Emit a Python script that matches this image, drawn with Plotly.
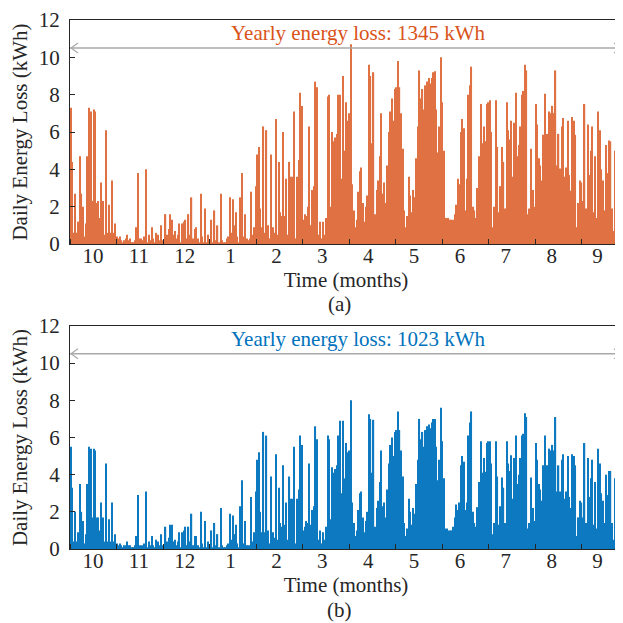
import numpy as np
import plotly.graph_objects as go

# ---------------- data (daily energy loss, kWh) ----------------
month_labels = ["10", "11", "12", "1", "2", "3", "4", "5", "6", "7", "8", "9"]

# (a) orange series
oct_a = [7.3, 4.4, 0.6, 2.7, 0.6, 1.2, 4.7, 2.7, 2.0, 0.4, 1.1, 4.7, 7.3, 7.1, 2.3, 7.2, 7.1, 2.2, 2.3, 1.4,
         3.3, 2.3, 0.5, 6.1, 0.6, 2.1, 0.6, 3.4, 0.6, 1.1, 0.4]
nov_a = [0.3, 0.4, 0.2, 0.1, 0.2, 0.3, 0.5, 0.2, 0.3, 0.1, 0.1, 0.2, 0.9, 3.8, 0.3, 0.3, 0.2, 0.4, 4.0, 0.1,
         0.5, 0.2, 0.9, 0.3, 0.1, 0.6, 0.5, 0.2, 1.0, 0.2]
dec_a = [0.2, 1.6, 0.5, 0.8, 1.6, 1.3, 0.5, 0.7, 0.3, 0.5, 1.1, 0.1, 1.1, 1.2, 1.3, 0.3, 1.6, 0.5, 2.5, 0.3,
         0.8, 0.9, 0.3, 0.1, 2.7, 0.4, 0.1, 1.9, 0.1, 0.5, 0.2]
jan_a = [1.3, 0.1, 1.8, 0.2, 1.0, 0.1, 2.7, 0.2, 0.1, 0.1, 0.3, 0.4, 2.5, 0.6, 2.4, 1.0, 1.7, 0.4, 0.1, 2.5,
         3.8, 0.4, 1.6, 0.3, 0.2, 0.3, 2.8, 0.5, 0.9, 3.1, 4.8]
feb_a = [5.2, 1.9, 0.9, 6.3, 0.6, 6.1, 1.0, 0.3, 4.8, 0.9, 0.6, 6.7, 0.5, 4.4, 1.7, 1.5, 6.0, 1.5, 3.5, 0.5,
         4.4, 3.6, 3.6, 7.1, 0.3, 3.6, 4.5, 8.1, 7.4]
mar_a = [1.3, 1.6, 1.5, 2.0, 6.3, 1.0, 2.9, 3.1, 8.7, 8.4, 0.5, 1.2, 0.3, 1.2, 0.5, 1.4, 7.9, 8.0, 2.0, 6.0,
         5.5, 5.7, 5.9, 8.0, 8.0, 3.5, 9.0, 5.0, 7.6, 6.6, 7.0]
apr_a = [10.7, 3.2, 1.8, 0.9, 1.3, 2.8, 3.9, 4.1, 2.2, 1.2, 2.0, 2.6, 9.6, 9.0, 5.4, 9.2, 1.6, 2.9, 3.4, 4.7,
         7.0, 2.7, 3.3, 2.2, 4.2, 6.0, 7.1, 7.8, 6.6, 8.3]
may_a = [8.4, 9.8, 8.4, 7.0, 5.1, 1.8, 0.9, 1.5, 3.6, 2.6, 1.7, 2.9, 2.5, 4.6, 6.3, 9.3, 7.8, 8.3, 7.2, 8.5,
         8.7, 8.9, 8.6, 8.9, 9.2, 9.25, 7.2, 4.9, 6.3, 10.0, 7.6]
jun_a = [5.0, 1.4, 1.4, 1.4, 1.3, 1.3, 1.3, 1.6, 2.1, 3.5, 3.2, 6.0, 6.7, 6.2, 1.8, 3.5, 8.0, 8.5, 9.5, 2.0,
         1.8, 1.4, 3.0, 4.7, 7.5, 5.4, 6.3, 5.5, 7.5, 7.6]
jul_a = [7.7, 6.0, 0.9, 2.0, 7.7, 5.2, 1.7, 3.1, 5.2, 4.4, 1.9, 7.6, 6.1, 5.6, 6.6, 3.6, 6.5, 8.1, 4.7, 5.3,
         6.3, 8.0, 8.2, 9.6, 9.3, 1.6, 1.9, 5.1, 2.9, 2.0, 7.5]
aug_a = [6.4, 4.6, 4.2, 3.4, 5.85, 8.05, 5.9, 5.9, 7.1, 7.0, 7.4, 7.0, 9.3, 4.2, 5.9, 4.05, 6.3, 6.75, 3.6, 4.1,
         6.6, 3.7, 2.85, 6.8, 6.6, 5.85, 0.9, 2.2, 3.4, 3.3, 2.3]
sep_a = [7.5, 1.9, 6.4, 3.7, 5.0, 6.3, 1.7, 4.7, 1.4, 7.1, 6.1, 4.0, 3.4, 1.8, 5.3, 3.8, 5.55, 5.5, 1.9, 0.7,
         5.0, 6.2, 1.05, 0.5, 0.6, 0.6]

# (b) blue series
oct_b = [5.5, 3.3, 0.4, 2.0, 0.4, 0.9, 3.5, 2.0, 1.5, 0.3, 0.8, 3.5, 5.5, 5.4, 1.7, 5.4, 5.3, 1.7, 1.7, 1.0,
         2.5, 1.7, 0.4, 4.6, 0.4, 1.6, 0.4, 2.5, 0.4, 0.8, 0.3]
nov_b = [0.2, 0.3, 0.2, 0.1, 0.2, 0.2, 0.4, 0.2, 0.2, 0.1, 0.1, 0.2, 0.7, 2.9, 0.2, 0.2, 0.2, 0.3, 3.1, 0.1,
         0.4, 0.2, 0.7, 0.2, 0.1, 0.5, 0.4, 0.2, 0.8, 0.2]
dec_b = [0.2, 1.2, 0.4, 0.6, 1.3, 1.3, 0.4, 0.5, 0.2, 0.4, 0.9, 0.1, 0.9, 1.0, 1.2, 0.2, 1.2, 0.4, 1.9, 0.2,
         0.7, 0.7, 0.2, 0.1, 2.0, 0.3, 0.1, 1.5, 0.1, 0.4, 0.2]
jan_b = [1.0, 0.1, 1.4, 0.2, 0.8, 0.1, 2.2, 0.2, 0.1, 0.1, 0.2, 0.3, 1.9, 0.5, 1.8, 0.8, 1.3, 0.3, 0.1, 2.3,
         3.7, 0.3, 1.5, 0.2, 0.2, 0.2, 2.8, 0.4, 0.9, 3.1, 4.8]
feb_b = [5.2, 2.0, 0.9, 6.3, 0.9, 6.1, 1.0, 0.3, 3.9, 0.9, 0.6, 5.1, 0.5, 3.3, 1.4, 1.2, 4.5, 1.3, 2.5, 0.5,
         3.9, 2.7, 2.7, 5.5, 0.3, 2.7, 3.2, 6.1, 5.6]
mar_b = [1.0, 1.2, 1.5, 1.4, 4.6, 1.3, 2.1, 2.3, 6.6, 5.9, 0.5, 1.0, 0.3, 0.9, 0.5, 1.2, 6.1, 5.9, 1.6, 4.4,
         4.1, 4.3, 4.5, 6.1, 6.9, 3.0, 6.9, 3.8, 5.7, 5.2, 5.3]
apr_b = [8.0, 2.5, 1.4, 0.7, 1.0, 2.1, 3.0, 3.1, 1.7, 0.9, 1.5, 2.0, 7.25, 7.0, 4.1, 6.95, 1.2, 2.2, 2.6, 3.6,
         5.3, 2.3, 2.5, 1.7, 3.2, 4.6, 5.6, 6.0, 5.0, 6.3]
may_b = [6.4, 7.4, 6.4, 5.3, 3.9, 1.4, 0.7, 1.1, 2.7, 2.0, 1.3, 2.2, 1.9, 3.5, 4.8, 7.0, 5.9, 6.3, 5.5, 6.4,
         6.6, 6.7, 6.5, 6.8, 7.0, 7.0, 5.5, 3.7, 4.8, 7.6, 5.8]
jun_b = [3.8, 1.1, 1.1, 1.0, 1.0, 1.0, 1.2, 1.7, 2.4, 2.1, 2.5, 4.5, 5.0, 4.7, 2.1, 2.5, 6.1, 6.8, 7.4, 2.0,
         1.4, 1.2, 2.25, 3.6, 5.8, 4.1, 4.9, 4.15, 5.7, 5.8]
jul_b = [5.8, 4.6, 0.8, 1.4, 5.8, 3.9, 1.3, 2.3, 3.85, 3.3, 1.4, 5.8, 4.6, 4.2, 5.05, 2.7, 4.9, 6.1, 3.5, 4.0,
         4.9, 6.1, 6.2, 7.3, 7.1, 1.1, 1.4, 3.85, 2.2, 1.5, 5.7]
aug_b = [4.8, 3.5, 3.2, 2.6, 4.5, 6.1, 4.5, 4.5, 5.4, 5.3, 5.6, 5.3, 7.1, 3.1, 4.5, 3.1, 4.8, 5.1, 2.7, 3.1,
         5.0, 2.8, 2.2, 5.1, 5.0, 4.5, 0.7, 1.7, 2.6, 2.5, 1.7]
sep_b = [5.7, 1.4, 4.9, 2.8, 3.8, 4.8, 1.3, 3.6, 1.1, 5.4, 4.6, 3.0, 2.6, 1.4, 4.0, 2.9, 4.2, 4.2, 1.4, 0.5,
         3.8, 4.7, 0.8, 0.4, 0.5, 0.5]

loss_a = oct_a + nov_a + dec_a + jan_a + feb_a + mar_a + apr_a + may_a + jun_a + jul_a + aug_a + sep_a
loss_b = oct_b + nov_b + dec_b + jan_b + feb_b + mar_b + apr_b + may_b + jun_b + jul_b + aug_b + sep_b

yearly_a = 1345
yearly_b = 1023

# ---------------- styling ----------------
ORANGE = "#D95319"
BLUE = "#0072BD"
AX = "#262626"
FONT = "Liberation Serif"
FS = 21

OFF = 8                      # page body margin offset
W, H = 623 - OFF, 623 - OFF
ML, MR = 70 - OFF, 0
MT = 13 - OFF
MB = H - (549 - OFF)
PX_PER_DAY = 46.6 / (365 / 12)
X_END = (W - ML - MR) / PX_PER_DAY

days = np.arange(len(loss_a)) + 0.5
tick_bounds = [k * 365 / 12 for k in range(13)]
label_pos = [15 + 30 * k for k in range(12)]

fig = go.Figure()
fig.add_trace(go.Bar(x=days, y=loss_a, marker=dict(color=ORANGE, line=dict(width=0)),
                     opacity=0.82, xaxis="x", yaxis="y", showlegend=False))
fig.add_trace(go.Bar(x=days[:len(loss_b)], y=loss_b, marker=dict(color=BLUE, line=dict(width=0)),
                     opacity=0.95, xaxis="x2", yaxis="y2", showlegend=False))


def xaxis_cfg(anchor):
    return dict(
        anchor=anchor, domain=[0, 1], range=[0, X_END],
        tickmode="array", tickvals=label_pos, ticktext=month_labels,
        ticks="", showgrid=False, zeroline=False,
        showline=True, linecolor=AX, linewidth=1, mirror=True,
        tickfont=dict(family=FONT, size=FS, color=AX),
        ticklabelstandoff=-7,
        minor=dict(tickmode="array", tickvals=tick_bounds, ticks="inside",
                   ticklen=5, tickcolor=AX, tickwidth=1, showgrid=False),
        title=dict(text="Time (months)", font=dict(family=FONT, size=FS, color=AX), standoff=0),
    )


def yaxis_cfg(anchor, domain):
    return dict(
        anchor=anchor, domain=domain, range=[0, 12],
        tickmode="array", tickvals=[0, 2, 4, 6, 8, 10, 12],
        ticks="inside", ticklen=5, tickcolor=AX, tickwidth=1,
        showgrid=False, zeroline=False,
        showline=True, linecolor=AX, linewidth=1, mirror="ticks",
        tickfont=dict(family=FONT, size=FS, color=AX),
        ticklabelstandoff=5,
        title=dict(text="Daily Energy Loss (kWh)", font=dict(family=FONT, size=FS, color=AX), standoff=5),
    )


plot_h = H - MT - MB
top_dom = [(549 - 240) / plot_h, 1.0]
bot_dom = [0.0, (549 - 323) / plot_h]

fig.update_layout(
    width=W, height=H,
    margin=dict(l=ML, r=MR, t=MT, b=MB, pad=0),
    paper_bgcolor="white", plot_bgcolor="white",
    bargap=0.2, barmode="overlay",
    font=dict(family=FONT, size=FS, color=AX),
    xaxis=xaxis_cfg("y"), yaxis=yaxis_cfg("x", top_dom),
    xaxis2=xaxis_cfg("y2"), yaxis2=yaxis_cfg("x2", bot_dom),
)

shapes = []
annotations = []
ARROW_Y = 10.5
GRAY = "#A9A9A9"
for xr, yr, label, col in [("x", "y", f"Yearly energy loss: {yearly_a} kWh", ORANGE),
                           ("x2", "y2", f"Yearly energy loss: {yearly_b} kWh", BLUE)]:
    shapes.append(dict(type="line", xref=xr, yref=yr, x0=0, x1=X_END, y0=ARROW_Y, y1=ARROW_Y,
                       line=dict(color=GRAY, width=1.5)))
    shapes.append(dict(type="path", xref=xr, yref=yr, xsizemode="pixel", ysizemode="pixel",
                       xanchor=0, yanchor=ARROW_Y, path="M 8,-5 L 1,0 L 8,5",
                       line=dict(color=GRAY, width=1.2)))
    shapes.append(dict(type="path", xref=xr, yref=yr, xsizemode="pixel", ysizemode="pixel",
                       xanchor=X_END, yanchor=ARROW_Y, path="M -8,-5 L -1,0 L -8,5",
                       line=dict(color=GRAY, width=1.2)))
    annotations.append(dict(xref=xr, yref=yr, x=188.5, y=11.3, text=label, showarrow=False,
                            xanchor="center", yanchor="middle",
                            font=dict(family=FONT, size=FS, color=col)))

pw = W - ML - MR
annotations.append(dict(xref="paper", yref="paper", x=(340 - 70) / pw, y=(549 - 301) / plot_h,
                        text="(a)", showarrow=False, xanchor="center", yanchor="middle",
                        font=dict(family=FONT, size=FS, color=AX)))
annotations.append(dict(xref="paper", yref="paper", x=(340 - 70) / pw, y=(549 - 611) / plot_h,
                        text="(b)", showarrow=False, xanchor="center", yanchor="middle",
                        font=dict(family=FONT, size=FS, color=AX)))

fig.update_layout(shapes=shapes, annotations=annotations)
fig.write_html("out.html")
